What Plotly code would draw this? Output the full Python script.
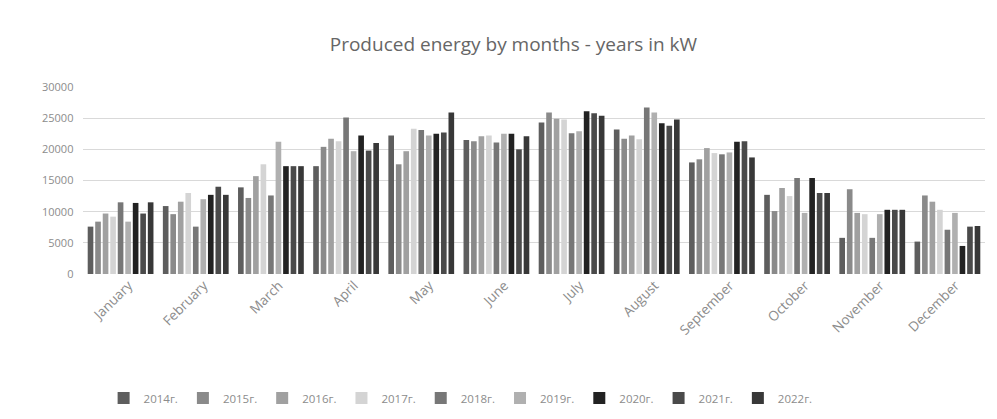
import plotly.graph_objects as go

months = ["January", "February", "March", "April", "May", "June", "July",
          "August", "September", "October", "November", "December"]

years = ["2014г.", "2015г.", "2016г.", "2017г.", "2018г.", "2019г.", "2020г.", "2021г.", "2022г."]

v2014 = [7600, 10900, 13900, 17300, 22200, 21500, 24300, 23200, 17900, 12700, 5800, 5200]
v2015 = [8400, 9600, 12200, 20400, 17600, 21300, 25900, 21700, 18400, 10100, 13600, 12600]
v2016 = [9700, 11600, 15700, 21700, 19700, 22100, 24900, 22200, 20200, 13800, 9800, 11600]
v2017 = [9200, 13000, 17600, 21300, 23300, 22200, 24800, 21600, 19400, 12500, 9600, 10300]
v2018 = [11500, 7600, 12600, 25100, 23100, 21100, 22600, 26700, 19200, 15400, 5800, 7100]
v2019 = [8400, 12000, 21200, 19700, 22200, 22500, 22900, 25900, 19500, 9800, 9600, 9800]
v2020 = [11400, 12700, 17300, 22200, 22500, 22500, 26100, 24200, 21200, 15400, 10300, 4500]
v2021 = [9700, 14000, 17300, 19800, 22700, 20000, 25800, 23800, 21300, 13000, 10300, 7600]
v2022 = [11500, 12700, 17300, 21000, 25900, 22100, 25400, 24800, 18700, 13000, 10300, 7700]

series = [v2014, v2015, v2016, v2017, v2018, v2019, v2020, v2021, v2022]
colors = ["#5e5e5e", "#8a8a8a", "#a0a0a0", "#d4d4d4", "#777777",
          "#b0b0b0", "#222222", "#4a4a4a", "#383838"]

fig = go.Figure()
for name, vals, col in zip(years, series, colors):
    fig.add_trace(go.Bar(name=name, x=months, y=vals, marker_color=col,
                         marker_line_width=0))

fig.update_layout(
    width=997, height=419,
    margin=dict(l=83, r=12, t=87, b=145),
    paper_bgcolor="white", plot_bgcolor="white",
    barmode="group", bargap=0.1, bargroupgap=0.25,
    font=dict(family="Open Sans, Liberation Sans, sans-serif", color="#8c8c8c", size=11),
    title=dict(text="Produced energy by months - years in kW",
               x=0.515, xanchor="center", y=0.893, yanchor="middle",
               font=dict(size=19, color="#666666")),
    showlegend=True,
    legend=dict(orientation="h", xref="container", yref="container",
                x=0.462, xanchor="center", y=0.05, yanchor="middle",
                font=dict(size=11.5, color="#8c8c8c"), itemwidth=30,
                tracegroupgap=0, traceorder="normal"),
)
fig.update_xaxes(tickangle=-45, showline=False, ticks="", showgrid=False,
                 automargin=False, ticklabelshift=8,
                 tickfont=dict(size=13.5, color="#8c8c8c"))
fig.update_yaxes(range=[0, 30000], dtick=5000, tickformat="d", showgrid=True,
                 gridcolor="#d9d9d9", gridwidth=1, zeroline=False, showline=False,
                 automargin=False, tickfont=dict(size=11, color="#8c8c8c"),
                 ticksuffix="   ")

fig.write_html("out.html")
